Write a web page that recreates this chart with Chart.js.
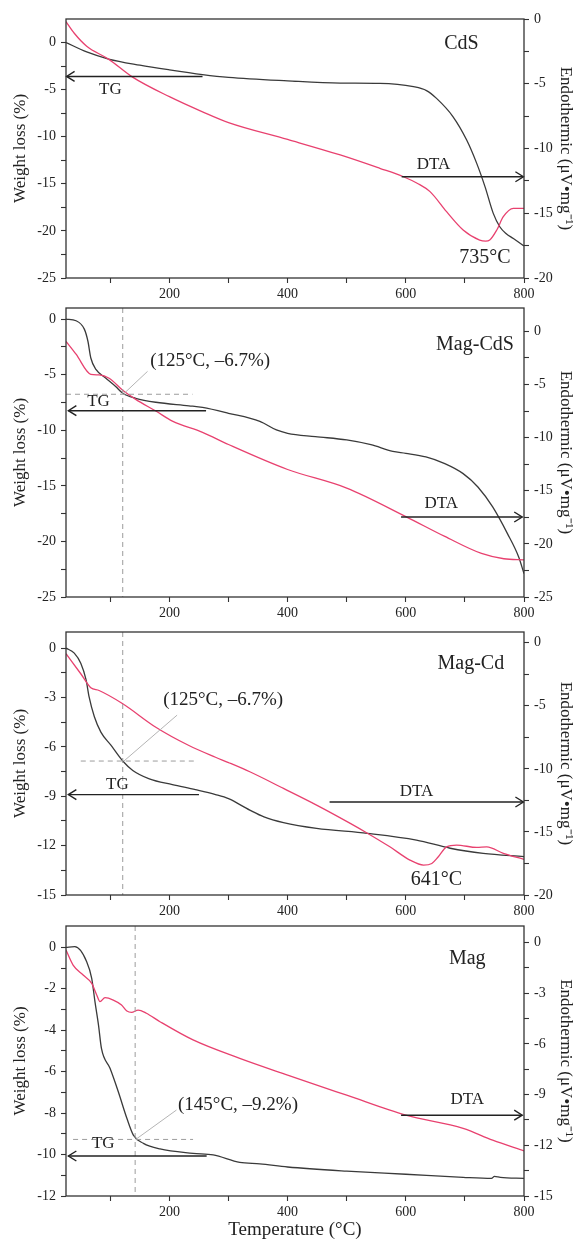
<!DOCTYPE html>
<html>
<head>
<meta charset="utf-8">
<title>TG / DTA</title>
<script src="https://cdn.jsdelivr.net/npm/chart.js@4.4.1/dist/chart.umd.min.js"></script>
<style>
  html, body { margin: 0; padding: 0; background: #fff; }
  #wrap { position: relative; width: 582px; height: 1240px; overflow: hidden; background: #fff; }
  #wrap canvas { position: absolute; left: 0; }
</style>
</head>
<body>
<div id="wrap">
  <canvas id="cds"></canvas>
  <canvas id="magcds"></canvas>
  <canvas id="magcd"></canvas>
  <canvas id="mag"></canvas>
</div>
<script>
// ---- data (temperature in °C, TG in %, DTA in µV/mg) ----
const xTicks = [100, 200, 300, 400, 500, 600, 700, 800];
const xLabels = [200, 400, 600, 800];

// CdS
const cdsTgT = [25, 60, 97, 150, 200, 256, 300, 400, 489, 556, 613, 635, 652, 680, 703, 720, 734, 748, 759, 770, 782, 800];
const cdsTg = [0, -1.0, -1.75, -2.4, -2.9, -3.4, -3.7, -4.07, -4.3, -4.33, -4.69, -5.1, -5.93, -7.88, -10.35, -12.83, -15.3, -18.14, -19.56, -20.3, -20.8, -21.6];
const cdsDtaT = [25, 39, 60, 97, 137, 200, 256, 300, 400, 489, 556, 596, 620, 641, 669, 697, 725, 735, 742, 754, 765, 782, 800];
const cdsDta = [-0.2, -1.1, -2.1, -3.1, -4.47, -6.0, -7.17, -8.0, -9.3, -10.5, -11.53, -12.18, -12.7, -13.33, -14.88, -16.29, -17.07, -17.15, -17.07, -16.29, -15.27, -14.62, -14.62];
const cdsLeftTicks = [-25, -22.5, -20, -17.5, -15, -12.5, -10, -7.5, -5, -2.5, 0];
const cdsLeftLabels = [-25, -20, -15, -10, -5, 0];
const cdsRightTicks = [-20, -17.5, -15, -12.5, -10, -7.5, -5, -2.5, 0];
const cdsRightLabels = [-20, -15, -10, -5, 0];

// Mag-CdS
const mcsTgT = [25, 42, 56, 62, 67, 76, 92, 109, 121, 143, 177, 233, 256, 300, 353, 381, 400, 447, 500, 541, 578, 600, 634, 666, 697, 722, 747, 772, 791, 800];
const mcsTg = [0, -0.15, -0.9, -1.97, -3.5, -4.55, -5.3, -6.06, -6.67, -7.12, -7.48, -7.8, -7.95, -8.47, -9.2, -9.97, -10.27, -10.57, -10.87, -11.3, -11.9, -12.07, -12.4, -13.0, -13.9, -15.1, -16.9, -19.3, -21.4, -22.9];
const mcsDtaT = [25, 42, 67, 81, 98, 121, 143, 177, 205, 256, 300, 400, 500, 600, 666, 728, 766, 800];
const mcsDta = [-0.95, -2.15, -4.04, -4.1, -4.41, -5.55, -6.4, -7.5, -8.45, -9.5, -10.65, -13.0, -14.75, -17.43, -19.3, -20.9, -21.4, -21.5];
const mcsLeftTicks = [-25, -22.5, -20, -17.5, -15, -12.5, -10, -7.5, -5, -2.5, 0];
const mcsLeftLabels = [-25, -20, -15, -10, -5, 0];
const mcsRightTicks = [-25, -22.5, -20, -17.5, -15, -12.5, -10, -7.5, -5, -2.5, 0];
const mcsRightLabels = [-25, -20, -15, -10, -5, 0];

// Mag-Cd
const mcTgT = [25, 39, 50, 59, 64, 73, 84, 101, 121, 138, 166, 205, 244, 278, 300, 336, 360, 393, 449, 535, 618, 675, 731, 800];
const mcTg = [0, -0.3, -0.92, -1.93, -2.95, -4.17, -5.1, -5.9, -6.86, -7.43, -7.94, -8.29, -8.6, -8.9, -9.15, -9.84, -10.25, -10.6, -10.95, -11.25, -11.66, -12.16, -12.47, -12.67];
const mcDtaT = [25, 50, 67, 81, 121, 177, 233, 278, 300, 336, 393, 449, 506, 535, 573, 607, 630, 644, 655, 669, 686, 720, 737, 765, 800];
const mcDta = [-0.87, -2.46, -3.57, -3.79, -4.84, -6.7, -8.15, -9.08, -9.5, -10.23, -11.55, -12.87, -14.32, -15.1, -16.18, -17.23, -17.63, -17.5, -16.97, -16.18, -16.04, -16.23, -16.18, -16.7, -17.18];
const mcLeftTicks = [-15, -13.5, -12, -10.5, -9, -7.5, -6, -4.5, -3, -1.5, 0];
const mcLeftLabels = [-15, -12, -9, -6, -3, 0];
const mcRightTicks = [-20, -17.5, -15, -12.5, -10, -7.5, -5, -2.5, 0];
const mcRightLabels = [-20, -15, -10, -5, 0];

// Mag
const magTgT = [25, 40, 60, 68.5, 74, 80, 85, 99.5, 113.5, 128, 139, 156, 184, 240, 274, 319, 353, 400, 500, 600, 697, 745, 750, 760, 800];
const magTg = [0, 0.03, -0.69, -1.5, -2.62, -3.75, -4.88, -5.84, -6.97, -8.25, -9.06, -9.46, -9.73, -9.94, -10.02, -10.38, -10.45, -10.6, -10.8, -10.95, -11.1, -11.15, -11.05, -11.1, -11.15];
const magDtaT = [25, 37, 54, 68.5, 77, 82.5, 91, 105, 119, 128, 136, 147, 161, 184, 240, 319, 400, 500, 600, 697, 747, 800];
const magDta = [-0.45, -1.34, -1.93, -2.42, -3.11, -3.5, -3.27, -3.41, -3.7, -4.06, -4.14, -4.0, -4.19, -4.69, -5.77, -6.86, -7.85, -9.04, -10.22, -11.0, -11.7, -12.33];
const magLeftTicks = [-12, -11, -10, -9, -8, -7, -6, -5, -4, -3, -2, -1, 0];
const magLeftLabels = [-12, -10, -8, -6, -4, -2, 0];
const magRightTicks = [-15, -13.5, -12, -10.5, -9, -7.5, -6, -4.5, -3, -1.5, 0];
const magRightLabels = [-15, -12, -9, -6, -3, 0];

// ---- look ----
const FONT = '"Liberation Serif", "Times New Roman", serif';
const TG_COLOR = '#3a3a3a';
const DTA_COLOR = '#e8416f';
Chart.defaults.font.family = FONT;
Chart.defaults.color = '#222';

// annotations, x in °C and y in left-axis (TG) units
const notes = {
  cds: {
    texts: [
      { t: 'CdS', x: 694, y: -0.1, size: 20 },
      { t: 'TG', x: 100, y: -4.95, size: 17 },
      { t: 'DTA', x: 647, y: -12.9, size: 17 },
      { t: '735°C', x: 734, y: -22.8, size: 20 }
    ],
    arrows: [{ x1: 256, x2: 26, y: -3.6 }, { x1: 593, x2: 799, y: -14.25 }],
    vlines: [], hlines: [], leaders: []
  },
  magcds: {
    texts: [
      { t: 'Mag-CdS', x: 717, y: -2.3, size: 20 },
      { t: '(125°C, –6.7%)', x: 269, y: -3.8, size: 19 },
      { t: 'TG', x: 80, y: -7.42, size: 17 },
      { t: 'DTA', x: 660, y: -16.6, size: 17 }
    ],
    arrows: [{ x1: 262, x2: 29, y: -8.24 }, { x1: 592, x2: 797, y: -17.8 }],
    vlines: [121], hlines: [{ y: -6.76, x1: 25, x2: 239 }],
    leaders: [{ x1: 123, y1: -6.7, x2: 163, y2: -4.7 }]
  },
  magcd: {
    texts: [
      { t: 'Mag-Cd', x: 710, y: -0.95, size: 20 },
      { t: '(125°C, –6.7%)', x: 291, y: -3.13, size: 19 },
      { t: 'TG', x: 112, y: -8.29, size: 17 },
      { t: 'DTA', x: 618, y: -8.72, size: 17 },
      { t: '641°C', x: 652, y: -14.09, size: 20 }
    ],
    arrows: [{ x1: 471, x2: 799, y: -9.35 }, { x1: 250, x2: 29, y: -8.9 }],
    vlines: [121], hlines: [{ y: -6.86, x1: 50, x2: 247 }],
    leaders: [{ x1: 123, y1: -6.86, x2: 213, y2: -4.07 }]
  },
  mag: {
    texts: [
      { t: 'Mag', x: 704, y: -0.53, size: 20 },
      { t: '(145°C, –9.2%)', x: 316, y: -7.61, size: 19 },
      { t: 'TG', x: 88, y: -9.46, size: 17 },
      { t: 'DTA', x: 704, y: -7.35, size: 17 }
    ],
    arrows: [{ x1: 263, x2: 29, y: -10.07 }, { x1: 592, x2: 797, y: -8.1 }],
    vlines: [142], hlines: [{ y: -9.27, x1: 37, x2: 240 }],
    leaders: [{ x1: 143, y1: -9.27, x2: 212, y2: -7.85 }]
  }
};

// frame + annotations drawn through the chart's own scales
const notesPlugin = {
  id: 'notes',
  afterDatasetsDraw(chart) {
    const n = notes[chart.canvas.id];
    const { ctx, chartArea: a } = chart;
    const sx = chart.scales.x, sy = chart.scales.y;
    ctx.save();

    ctx.strokeStyle = '#9c9c9c';
    ctx.lineWidth = 1;
    ctx.setLineDash([5, 4]);
    n.vlines.forEach(v => {
      const px = sx.getPixelForValue(v);
      ctx.beginPath(); ctx.moveTo(px, a.top); ctx.lineTo(px, a.bottom); ctx.stroke();
    });
    n.hlines.forEach(h => {
      const py = sy.getPixelForValue(h.y);
      ctx.beginPath(); ctx.moveTo(sx.getPixelForValue(h.x1), py); ctx.lineTo(sx.getPixelForValue(h.x2), py); ctx.stroke();
    });
    ctx.setLineDash([]);
    ctx.strokeStyle = '#b4b4b4';
    n.leaders.forEach(l => {
      ctx.beginPath();
      ctx.moveTo(sx.getPixelForValue(l.x1), sy.getPixelForValue(l.y1));
      ctx.lineTo(sx.getPixelForValue(l.x2), sy.getPixelForValue(l.y2));
      ctx.stroke();
    });

    // arrows (head at x2)
    ctx.strokeStyle = '#222';
    ctx.lineWidth = 1.4;
    n.arrows.forEach(ar => {
      const x1 = sx.getPixelForValue(ar.x1), x2 = sx.getPixelForValue(ar.x2), py = sy.getPixelForValue(ar.y);
      const dir = x2 > x1 ? 1 : -1;
      ctx.beginPath(); ctx.moveTo(x1, py); ctx.lineTo(x2, py); ctx.stroke();
      ctx.beginPath();
      ctx.moveTo(x2 - dir * 8, py - 5); ctx.lineTo(x2, py); ctx.lineTo(x2 - dir * 8, py + 5);
      ctx.stroke();
    });

    ctx.fillStyle = '#222';
    ctx.textAlign = 'center';
    ctx.textBaseline = 'middle';
    n.texts.forEach(tx => {
      ctx.font = tx.size + 'px ' + FONT;
      ctx.fillText(tx.t, sx.getPixelForValue(tx.x), sy.getPixelForValue(tx.y));
    });

    // plot frame
    ctx.strokeStyle = '#333';
    ctx.lineWidth = 1.3;
    ctx.strokeRect(a.left, a.top, a.right - a.left, a.bottom - a.top);
    ctx.restore();
  }
};

function pts(xs, ys) {
  return xs.map((t, i) => ({ x: t, y: ys[i] }));
}

function axisY(pos, min, max, ticks, labels, width, titleText, titlePad) {
  return {
    type: 'linear', position: pos, min: min, max: max,
    border: { display: false },
    grid: { display: true, drawOnChartArea: false, drawTicks: true, tickLength: 5, tickColor: '#333', tickWidth: 1.1 },
    ticks: {
      autoSkip: false, padding: 5, color: '#222', font: { size: 14 },
      callback: v => labels.includes(v) ? String(v) : ''
    },
    afterBuildTicks: s => { s.ticks = ticks.map(v => ({ value: v })); },
    afterFit: s => { s.width = width; s.paddingTop = 0; s.paddingBottom = 0; },
    title: { display: true, text: titleText, color: '#222', font: { size: 17 }, padding: { top: titlePad, bottom: 0 } }
  };
}

function panel(id, cfg) {
  const cv = document.getElementById(id);
  cv.width = 582;
  cv.height = cfg.height;
  cv.style.top = cfg.top + 'px';
  const xH = cfg.top + cfg.height - cfg.areaBottom;

  new Chart(cv, {
    type: 'line',
    data: {
      datasets: [
        { label: 'DTA', data: pts(cfg.dtaT, cfg.dta), yAxisID: 'y1', borderColor: DTA_COLOR, borderWidth: 1.3, pointRadius: 0, cubicInterpolationMode: 'monotone' },
        { label: 'TG', data: pts(cfg.tgT, cfg.tg), yAxisID: 'y', borderColor: TG_COLOR, borderWidth: 1.3, pointRadius: 0, cubicInterpolationMode: 'monotone' }
      ]
    },
    options: {
      responsive: false,
      animation: false,
      events: [],
      layout: { padding: { top: cfg.areaTop - cfg.top, left: 0, right: 0, bottom: 0 } },
      plugins: { legend: { display: false }, tooltip: { enabled: false } },
      scales: {
        x: {
          type: 'linear', min: 25, max: 800,
          border: { display: false },
          grid: { display: true, drawOnChartArea: false, drawTicks: true, tickLength: 5, tickColor: '#333', tickWidth: 1.1 },
          ticks: {
            autoSkip: false, maxRotation: 0, padding: 3, color: '#222', font: { size: 14 },
            callback: v => xLabels.includes(v) ? String(v) : ''
          },
          afterBuildTicks: s => { s.ticks = xTicks.map(v => ({ value: v })); },
          afterFit: s => { s.height = xH; s.paddingLeft = 0; s.paddingRight = 0; },
          title: { display: !!cfg.xTitle, text: 'Temperature (°C)', color: '#222', font: { size: 19, lineHeight: 1 }, padding: { top: 0, bottom: 0 } }
        },
        y: axisY('left', cfg.leftMin, cfg.leftMax, cfg.leftTicks, cfg.leftLabels, 66, 'Weight loss (%)', 10),
        y1: axisY('right', cfg.rightMin, cfg.rightMax, cfg.rightTicks, cfg.rightLabels, 58, 'Endothermic (μV•mg⁻¹)', 6)
      }
    },
    plugins: [notesPlugin]
  });
}

panel('cds', {
  top: 0, height: 305, areaTop: 19, areaBottom: 278,
  tgT: cdsTgT, tg: cdsTg, dtaT: cdsDtaT, dta: cdsDta,
  leftMin: -25, leftMax: 2.5, leftTicks: cdsLeftTicks, leftLabels: cdsLeftLabels,
  rightMin: -20, rightMax: 0, rightTicks: cdsRightTicks, rightLabels: cdsRightLabels
});
panel('magcds', {
  top: 298, height: 322, areaTop: 308, areaBottom: 597,
  tgT: mcsTgT, tg: mcsTg, dtaT: mcsDtaT, dta: mcsDta,
  leftMin: -25, leftMax: 1.0, leftTicks: mcsLeftTicks, leftLabels: mcsLeftLabels,
  rightMin: -25, rightMax: 2.2, rightTicks: mcsRightTicks, rightLabels: mcsRightLabels
});
panel('magcd', {
  top: 620, height: 300, areaTop: 632, areaBottom: 895,
  tgT: mcTgT, tg: mcTg, dtaT: mcDtaT, dta: mcDta,
  leftMin: -15, leftMax: 0.98, leftTicks: mcLeftTicks, leftLabels: mcLeftLabels,
  rightMin: -20, rightMax: 0.85, rightTicks: mcRightTicks, rightLabels: mcRightLabels
});
panel('mag', {
  top: 914, height: 326, areaTop: 926, areaBottom: 1196, xTitle: true,
  tgT: magTgT, tg: magTg, dtaT: magDtaT, dta: magDta,
  leftMin: -12, leftMax: 1.03, leftTicks: magLeftTicks, leftLabels: magLeftLabels,
  rightMin: -15, rightMax: 0.97, rightTicks: magRightTicks, rightLabels: magRightLabels
});
</script>
</body>
</html>
